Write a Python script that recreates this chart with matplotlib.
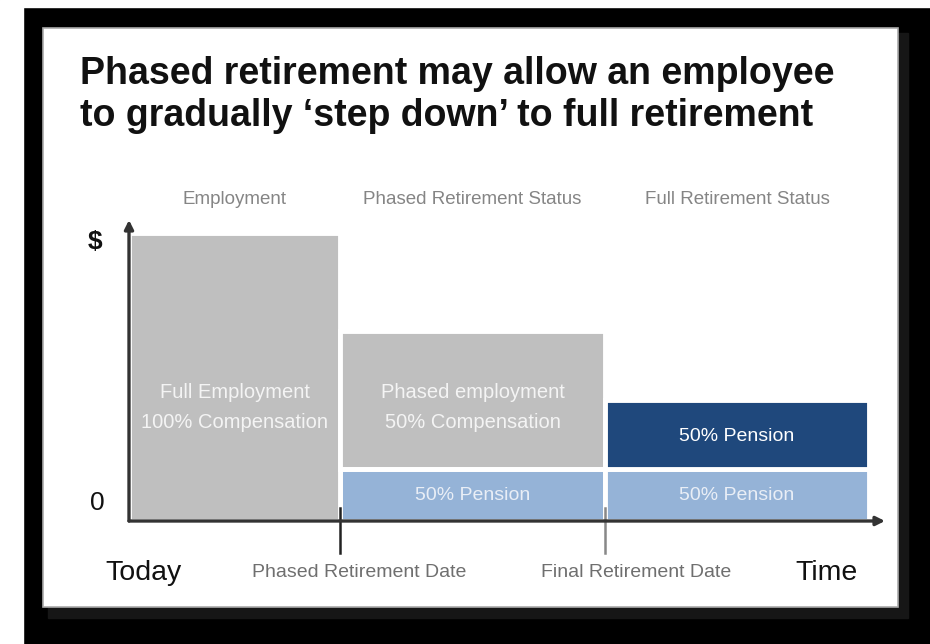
import matplotlib.pyplot as plt
from matplotlib.patches import Rectangle

# phases along the time axis
phases = ["Employment", "Phased Retirement Status", "Full Retirement Status"]
phase_start = [0, 4, 9]
phase_end = [4, 9, 14]

# income in % of full compensation (diagram scale)
compensation = [100, 48, 0]
pension = [0, 18, 18]
extra_pension = [0, 0, 24]

comp_labels = ["Full Employment\n100% Compensation", "Phased employment\n50% Compensation", ""]
pension_label = "50% Pension"

date_ticks = [4, 9]
date_labels = ["Phased Retirement Date", "Final Retirement Date"]
date_label_x = [4.35, 9.6]

GRAY = "#bfbfbf"
LIGHT = "#95b3d7"
DARK = "#1f487c"
FONT = "Liberation Sans"

plt.rcParams["font.family"] = FONT

fig = plt.figure(figsize=(9.3, 6.44), dpi=100)
fig.patch.set_facecolor("black")


def px(x, y):
    return x / 930, 1 - y / 644


# white strips round the frame, shadow and the white card
fig.patches.append(Rectangle((0, 0), 23 / 930, 1, transform=fig.transFigure, color="white", zorder=-5))
fig.patches.append(Rectangle(px(0, 7), 1, 7 / 644, transform=fig.transFigure, color="white", zorder=-5))
fig.patches.append(Rectangle(px(48, 618), 860 / 930, 585 / 644, transform=fig.transFigure,
                             color="#161616", zorder=-4))
fig.patches.append(Rectangle(px(43, 607), 855 / 930, 579 / 644, transform=fig.transFigure,
                             facecolor="white", edgecolor="#aaaaaa", lw=1.2, zorder=-3))

fig.text(*px(80, 84), "Phased retirement may allow an employee",
         weight="bold", fontsize=27, color="#111111", va="baseline")
fig.text(*px(80, 126), "to gradually \u2018step down\u2019 to full retirement",
         weight="bold", fontsize=27, color="#111111", va="baseline")

ax = fig.add_axes([129 / 930, 1 - 521 / 644, 756 / 930, 301 / 644])
ax.set_xlim(0, 14.3)
ax.set_ylim(0, 104.5)
ax.axis("off")

widths = [e - s for s, e in zip(phase_start, phase_end)]
ax.bar(phase_start, pension, width=widths, align="edge", color=LIGHT, edgecolor="white", lw=3.5)
ax.bar(phase_start, compensation, bottom=pension, width=widths, align="edge",
       color=GRAY, edgecolor="white", lw=3.5)
ax.bar(phase_start, extra_pension, bottom=pension, width=widths, align="edge",
       color=DARK, edgecolor="white", lw=3.5)

for s, e, lab, p, xp in zip(phase_start, phase_end, comp_labels, pension, extra_pension):
    cx = (s + e) / 2
    if lab:
        ax.text(cx, 39.5, lab, ha="center", va="center", fontsize=14.5,
                color="#f4f4f4", linespacing=1.75)
    if p:
        ax.text(cx, p / 2, pension_label, ha="center", va="center", fontsize=14,
                color="#e9eef6")
    if xp:
        ax.text(cx, p + xp / 2 - 0.8, pension_label, ha="center", va="center", fontsize=14,
                color="white")

for s, e, name in zip(phase_start, phase_end, phases):
    ax.text((s + e) / 2, 111.5, name, ha="center", va="center", fontsize=13.5,
            color="#858585", clip_on=False)

# axes with arrow heads
ax.annotate("", xy=(14.3, 0), xytext=(0, 0), annotation_clip=False,
            arrowprops=dict(arrowstyle="-|>", color="#333333", lw=2.4, mutation_scale=13,
                            shrinkA=0, shrinkB=0))
ax.annotate("", xy=(0, 104.5), xytext=(0, 0), annotation_clip=False,
            arrowprops=dict(arrowstyle="-|>", color="#333333", lw=2.4, mutation_scale=13,
                            shrinkA=0, shrinkB=0))

for t, c in zip(date_ticks, ["#222222", "#888888"]):
    ax.plot([t, t], [-11, 4.5], color=c, lw=1.8, clip_on=False)

for x, lab in zip(date_label_x, date_labels):
    ax.text(x, -18, lab, ha="center", va="center", fontsize=14,
            color="#6f6f6f", clip_on=False)

ax.text(-0.45, -18, "Today", ha="left", va="center", fontsize=20.5,
        color="#111111", clip_on=False)
ax.text(13.2, -18, "Time", ha="center", va="center", fontsize=20.5,
        color="#111111", clip_on=False)
ax.text(-0.64, 97, "$", ha="center", va="center", fontsize=19,
        weight="bold", color="#111111", clip_on=False)
ax.text(-0.6, 6.3, "0", ha="center", va="center", fontsize=19,
        color="#111111", clip_on=False)

fig.savefig("out.png", dpi=100, facecolor=fig.get_facecolor())
